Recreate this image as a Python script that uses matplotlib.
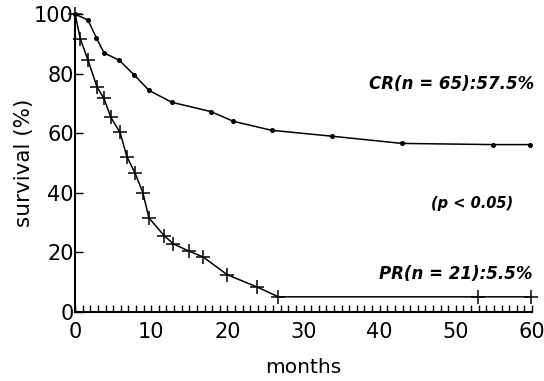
import numpy as np
import matplotlib.pyplot as plt

# survival curves
cr_months = [0, 1.7, 2.8, 3.8, 5.8, 7.8, 9.7, 12.7, 17.8, 20.8, 25.8, 33.8, 42.9, 54.9, 59.7]
cr_surv = [100, 98, 92, 87, 84.5, 79.5, 74.4, 70.4, 67.3, 64, 61, 59, 56.6, 56.2, 56.2]

pr_months = [0, 0.7, 1.7, 2.9, 3.8, 4.7, 5.9, 6.8, 7.9, 8.9, 9.7, 11.7, 12.9, 14.9,
             16.8, 20.0, 23.9, 26.7, 52.9, 59.9]
pr_surv = [100, 91.6, 84.5, 75.4, 71.7, 65.3, 60.3, 52.2, 46.5, 40.1, 31.6, 25.6, 22.9,
           20.5, 18.5, 12.5, 8.4, 5.1, 5.1, 5.1]

x_ticks = [0, 10, 20, 30, 40, 50, 60]
y_ticks = [0, 20, 40, 60, 80, 100]

plt.rcParams['font.family'] = ['DejaVu Sans']

fig = plt.figure(figsize=(5.44, 3.81), dpi=100)
ax = fig.add_axes([0.138, 0.181, 0.840, 0.782])

ax.plot(cr_months, cr_surv, color='black', lw=1.1, marker='o', ms=2.6, clip_on=False)
ax.plot(pr_months, pr_surv, color='black', lw=1.1, marker='+', ms=10, mew=1.1, clip_on=False)

ax.set_xlim(0, 60)
ax.set_ylim(0, 100)
ax.set_xticks(x_ticks)
ax.set_yticks(y_ticks)
ax.set_xticks(np.arange(0, 61, 1), minor=True)
ax.tick_params(axis='x', which='major', direction='in', length=5, width=1, labelsize=15, pad=7)
ax.tick_params(axis='x', which='minor', direction='in', length=5, width=1)
ax.tick_params(axis='y', which='major', direction='in', length=6, width=1, labelsize=15, pad=1)

for s in ['top', 'right']:
    ax.spines[s].set_visible(False)
for s in ['left', 'bottom']:
    ax.spines[s].set_linewidth(1.5)

ax.set_xlabel('months', fontsize=14.5, labelpad=12)
ax.set_ylabel('survival (%)', fontsize=15.5, labelpad=0)

ax.text(60.3, 76.5, 'CR(n = 65):57.5%', ha='right', va='center', fontsize=12,
        fontstyle='italic', fontweight='bold')
ax.text(57.5, 36.4, '(p < 0.05)', ha='right', va='center', fontsize=10.5,
        fontstyle='italic', fontweight='bold')
ax.text(60, 12.8, 'PR(n = 21):5.5%', ha='right', va='center', fontsize=12,
        fontstyle='italic', fontweight='bold')

fig.savefig('out.png', dpi=100)
